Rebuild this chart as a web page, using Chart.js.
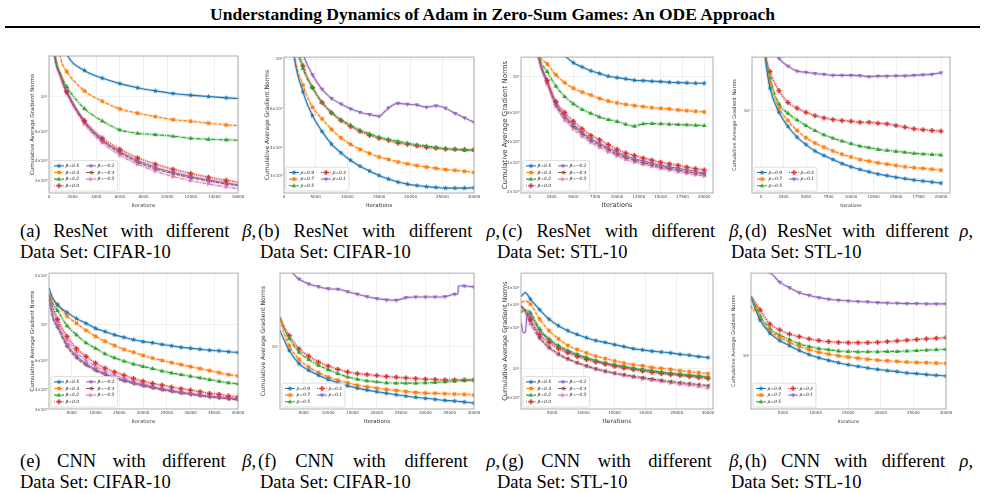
<!DOCTYPE html>
<html>
<head>
<meta charset="utf-8">
<script src="https://cdn.jsdelivr.net/npm/chart.js@4.4.0/dist/chart.umd.min.js"></script>
<style>
  body { margin: 0; width: 985px; height: 493px; background: #fff; position: relative; overflow: hidden;
         font-family: "Liberation Serif", "Times New Roman", serif; color: #000; }
  .ttl { position: absolute; left: 0; width: 985px; top: 5px; text-align: center; font-weight: bold; font-size: 17.5px; line-height: 18px; }
  .rule { position: absolute; left: 5px; width: 975px; top: 26px; height: 2px; background: #000; }
  canvas { position: absolute; }
  .cap { position: absolute; font-size: 18.5px; line-height: 21px; white-space: nowrap; }
  .l1 { white-space: normal; text-align: justify; text-align-last: justify; }
</style>
</head>
<body>
<div class="ttl">Understanding Dynamics of Adam in Zero-Sum Games: An ODE Approach</div>
<div class="rule"></div>

<div class="cap l1" style="left:20px;top:221px;width:236px">(a) ResNet with different <i>β</i>,</div>
<div class="cap" style="left:20px;top:242px">Data Set: CIFAR-10</div>
<div class="cap l1" style="left:258px;top:221px;width:242px">(b) ResNet with different <i>ρ</i>,</div>
<div class="cap" style="left:260px;top:242px">Data Set: CIFAR-10</div>
<div class="cap l1" style="left:502px;top:221px;width:241px">(c) ResNet with different <i>β</i>,</div>
<div class="cap" style="left:497px;top:242px">Data Set: STL-10</div>
<div class="cap l1" style="left:745px;top:221px;width:228px">(d) ResNet with different <i>ρ</i>,</div>
<div class="cap" style="left:731px;top:242px">Data Set: STL-10</div>

<div class="cap l1" style="left:20px;top:451px;width:236px">(e) CNN with different <i>β</i>,</div>
<div class="cap" style="left:20px;top:472px">Data Set: CIFAR-10</div>
<div class="cap l1" style="left:258px;top:451px;width:242px">(f) CNN with different <i>ρ</i>,</div>
<div class="cap" style="left:260px;top:472px">Data Set: CIFAR-10</div>
<div class="cap l1" style="left:502px;top:451px;width:241px">(g) CNN with different <i>β</i>,</div>
<div class="cap" style="left:497px;top:472px">Data Set: STL-10</div>
<div class="cap l1" style="left:745px;top:451px;width:228px">(h) CNN with different <i>ρ</i>,</div>
<div class="cap" style="left:731px;top:472px">Data Set: STL-10</div>

<script>
// legend values
var betaVals = ['0.5', '0.3', '0.2', '0.0', '−0.2', '−0.3', '−0.5'];
var rhoVals = ['0.9', '0.7', '0.5', '0.3', '0.1'];

// tick labels
var xTicksA = [0, 2000, 4000, 6000, 8000, 10000, 12000, 14000, 16000];
var xTicksB = [0, 5000, 10000, 15000, 20000, 25000, 30000];
var xTicksCD = [0, 2500, 5000, 7500, 10000, 12500, 15000, 17500, 20000];
var xTicksEF = [5000, 10000, 15000, 20000, 25000, 30000, 35000, 40000];
var xTicksGH = [5000, 10000, 15000, 20000, 25000, 30000];
var yTicksA = [3, 4, 6, 10];
var yTicksB = [3, 4, 6, 10];
var yTicksC = [2, 3, 4, 6, 10];
var yTicksD = [10];
var yTicksE = [3, 4, 6, 10, 20];
var yTicksF = [10];
var yTicksG = [6, 10, 20, 30, 40];
var yTicksH = [10];

// (a) ResNet, beta, CIFAR-10
var itersA = [0, 500, 1000, 1500, 3000, 4500, 6000, 7500, 9000, 10500, 12000, 13500, 15000, 16000];
var normsA_b05 = [60, 35, 24, 18.5, 14.6, 13.1, 12.1, 11.4, 10.9, 10.5, 10.25, 10.05, 9.86, 9.76];
var normsA_b03 = [50, 28, 17.2, 14.4, 10.9, 9.40, 8.41, 7.91, 7.53, 7.21, 7.05, 6.85, 6.68, 6.62];
var normsA_b02 = [45, 18, 13.8, 11.6, 8.45, 7.08, 6.22, 5.93, 5.81, 5.68, 5.52, 5.44, 5.39, 5.36];
var normsA_b00 = [45, 18, 13.5, 10.8, 7.11, 5.54, 4.71, 4.16, 3.80, 3.53, 3.32, 3.15, 3.01, 2.93];
var normsA_bm02 = [45, 18, 13.4, 10.8, 7.01, 5.39, 4.55, 4.00, 3.64, 3.38, 3.18, 3.03, 2.90, 2.82];
var normsA_bm03 = [45, 18, 13.3, 10.7, 6.95, 5.33, 4.49, 3.92, 3.56, 3.32, 3.13, 2.99, 2.86, 2.79];
var normsA_bm05 = [45, 18, 13.1, 10.5, 6.78, 5.18, 4.32, 3.80, 3.44, 3.18, 3.00, 2.86, 2.74, 2.67];

// (b) ResNet, rho, CIFAR-10
var itersB = [0, 1500, 3000, 4500, 6000, 7500, 9000, 10500, 12000, 13500, 15000, 16500, 18000, 19500, 21000, 22500, 24000, 25500, 27000, 28500, 30000];
var normsB_r09 = [40, 10.9, 7.13, 5.58, 4.74, 4.16, 3.80, 3.52, 3.31, 3.15, 3.01, 2.90, 2.81, 2.75, 2.71, 2.68, 2.66, 2.64, 2.64, 2.64, 2.65];
var normsB_r07 = [40, 11.2, 7.64, 6.08, 5.40, 4.84, 4.44, 4.15, 3.94, 3.78, 3.64, 3.55, 3.46, 3.39, 3.33, 3.28, 3.24, 3.20, 3.17, 3.14, 3.10];
var normsB_r05 = [40, 13.5, 9.06, 7.45, 6.39, 5.77, 5.34, 5.06, 4.80, 4.63, 4.47, 4.37, 4.28, 4.20, 4.13, 4.08, 4.02, 3.97, 3.94, 3.90, 3.89];
var normsB_r03 = [40, 13.8, 9.31, 7.45, 6.39, 5.74, 5.30, 4.99, 4.74, 4.55, 4.42, 4.32, 4.20, 4.15, 4.08, 4.02, 3.99, 3.95, 3.94, 3.93, 3.93];
var itersB_r01 = [0, 1500, 3000, 4500, 6000, 7500, 9000, 10500, 12000, 13500, 15000, 16000, 16500, 18000, 19500, 21000, 22500, 24000, 25500, 27000, 28500, 30000];
var normsB_r01 = [40, 15, 10.5, 8.49, 7.33, 6.66, 6.29, 5.98, 5.77, 5.64, 5.54, 5.85, 6.04, 6.33, 6.27, 6.23, 6.08, 6.17, 6.02, 5.71, 5.45, 5.21];

// (c) ResNet, beta, STL-10
var itersC = [0, 1000, 2000, 3000, 4000, 5000, 6000, 7000, 8000, 9000, 10000, 11000, 12000, 13000, 14000, 15000, 16000, 17000, 18000, 19000, 20000];
var normsC_b05 = [40, 26, 19, 15.5, 13.5, 12.2, 11.5, 10.9, 10.5, 10.1, 9.90, 9.73, 9.55, 9.50, 9.42, 9.37, 9.29, 9.24, 9.20, 9.16, 9.16];
var normsC_b03 = [40, 14.5, 12.0, 10.3, 9.24, 8.55, 8.09, 7.76, 7.40, 7.14, 6.95, 6.81, 6.69, 6.60, 6.50, 6.44, 6.39, 6.30, 6.24, 6.18, 6.13];
var normsC_b02 = [40, 14.0, 10.8, 8.79, 7.60, 6.87, 6.35, 6.01, 5.71, 5.51, 5.36, 5.16, 5.02, 5.19, 5.21, 5.19, 5.16, 5.14, 5.12, 5.09, 5.07];
var normsC_b00 = [40, 13.6, 9.55, 7.10, 6.09, 5.38, 4.84, 4.41, 4.16, 3.88, 3.63, 3.45, 3.33, 3.21, 3.12, 3.03, 2.96, 2.90, 2.83, 2.77, 2.72];
var normsC_bm02 = [40, 13.6, 9.37, 6.91, 5.82, 5.14, 4.62, 4.21, 3.96, 3.70, 3.49, 3.31, 3.19, 3.08, 2.99, 2.91, 2.84, 2.78, 2.72, 2.66, 2.61];
var normsC_bm03 = [40, 13.6, 9.24, 6.78, 5.69, 5.00, 4.52, 4.12, 3.86, 3.62, 3.40, 3.24, 3.12, 3.01, 2.93, 2.84, 2.78, 2.72, 2.65, 2.61, 2.56];
var normsC_bm05 = [40, 13.5, 9.04, 6.60, 5.48, 4.84, 4.35, 4.00, 3.73, 3.50, 3.31, 3.15, 3.03, 2.94, 2.86, 2.78, 2.72, 2.65, 2.59, 2.54, 2.50];

// (d) ResNet, rho, STL-10
var itersD = [0, 500, 1000, 2000, 3000, 4000, 5000, 6000, 7000, 8000, 9000, 10000, 11000, 12000, 13000, 14000, 15000, 16000, 17000, 18000, 19000, 20000];
var normsD_r09 = [80, 27, 15.5, 9.68, 7.36, 5.99, 5.18, 4.58, 4.19, 3.88, 3.59, 3.37, 3.20, 3.06, 2.93, 2.84, 2.75, 2.68, 2.61, 2.56, 2.51, 2.46];
var normsD_r07 = [80, 28, 17.2, 10.5, 8.25, 6.81, 5.92, 5.34, 4.94, 4.58, 4.30, 4.08, 3.88, 3.76, 3.64, 3.55, 3.46, 3.37, 3.31, 3.27, 3.22, 3.16];
var normsD_r05 = [80, 29, 18.9, 11.4, 9.49, 8.37, 7.50, 6.81, 6.27, 5.88, 5.55, 5.28, 5.04, 4.89, 4.73, 4.64, 4.55, 4.47, 4.38, 4.33, 4.28, 4.24];
var normsD_r03 = [80, 30, 21.3, 14.7, 11.7, 10.5, 9.68, 9.08, 8.69, 8.41, 8.25, 8.15, 7.99, 7.99, 7.83, 7.74, 7.50, 7.26, 7.04, 6.91, 6.81, 6.72];
var normsD_r01 = [80, 50, 40, 27.5, 23.7, 21.5, 21.0, 20.5, 20.2, 19.8, 19.8, 19.8, 19.7, 19.3, 19.5, 19.5, 19.6, 19.6, 19.8, 20.0, 20.2, 20.8];

// (e) CNN, beta, CIFAR-10
var itersE = [200, 1000, 2000, 4000, 6000, 8000, 10000, 12000, 14000, 16000, 18000, 20000, 22000, 24000, 26000, 28000, 30000, 32000, 34000, 36000, 38000, 40000];
var normsE_b05 = [16.8, 14.5, 13.2, 11.9, 10.9, 10.2, 9.50, 9.08, 8.67, 8.38, 8.11, 7.88, 7.75, 7.57, 7.43, 7.28, 7.18, 7.08, 6.99, 6.93, 6.83, 6.77];
var normsE_b03 = [15.7, 14.3, 13.3, 11.3, 10.2, 9.24, 8.49, 7.92, 7.46, 7.05, 6.79, 6.49, 6.25, 6.05, 5.86, 5.70, 5.54, 5.39, 5.24, 5.09, 4.95, 4.86];
var normsE_b02 = [15.3, 13.5, 12.2, 9.86, 8.67, 7.75, 7.18, 6.64, 6.28, 5.99, 5.75, 5.56, 5.39, 5.21, 5.07, 4.95, 4.84, 4.73, 4.62, 4.51, 4.41, 4.35];
var normsE_b00 = [15.0, 12.8, 10.8, 8.49, 7.13, 6.40, 5.83, 5.43, 5.14, 4.91, 4.69, 4.51, 4.37, 4.27, 4.15, 4.06, 3.98, 3.89, 3.80, 3.75, 3.66, 3.61];
var normsE_bm02 = [15.0, 11.3, 9.86, 7.54, 6.43, 5.78, 5.34, 5.02, 4.77, 4.58, 4.41, 4.27, 4.15, 4.04, 3.94, 3.85, 3.78, 3.71, 3.65, 3.60, 3.55, 3.50];
var normsE_bm03 = [14.5, 11.0, 9.63, 7.37, 6.28, 5.67, 5.25, 4.95, 4.71, 4.53, 4.37, 4.23, 4.11, 4.00, 3.91, 3.82, 3.75, 3.68, 3.62, 3.57, 3.52, 3.47];
var normsE_bm05 = [15.0, 12.3, 10.4, 8.00, 6.79, 6.05, 5.56, 5.21, 4.91, 4.70, 4.51, 4.35, 4.20, 4.08, 3.97, 3.88, 3.80, 3.72, 3.66, 3.60, 3.55, 3.50];

// (f) CNN, rho, CIFAR-10
var itersF = [100, 1000, 2000, 4000, 6000, 8000, 10000, 12000, 14000, 16000, 18000, 20000, 22000, 24000, 26000, 28000, 30000, 32000, 34000, 36000, 38000, 40000];
var normsF_r09 = [14.5, 11.5, 9.12, 6.71, 5.75, 5.13, 4.65, 4.30, 4.01, 3.80, 3.63, 3.49, 3.37, 3.26, 3.16, 3.07, 3.00, 2.93, 2.86, 2.82, 2.75, 2.69];
var normsF_r07 = [18.9, 13.5, 10.2, 7.41, 6.21, 5.46, 4.93, 4.57, 4.30, 4.07, 3.92, 3.80, 3.69, 3.61, 3.52, 3.44, 3.39, 3.37, 3.34, 3.31, 3.29, 3.24];
var normsF_r05 = [19.6, 15.0, 12.1, 8.77, 7.41, 6.46, 5.85, 5.33, 4.93, 4.68, 4.50, 4.40, 4.30, 4.27, 4.27, 4.27, 4.30, 4.34, 4.40, 4.47, 4.54, 4.60];
var normsF_r03 = [19.6, 15.5, 12.9, 9.48, 8.00, 6.97, 6.35, 5.89, 5.53, 5.33, 5.21, 5.09, 4.98, 4.90, 4.82, 4.75, 4.68, 4.65, 4.60, 4.60, 4.60, 4.60];
var itersF_r01 = [0, 2000, 4000, 6000, 8000, 10000, 12000, 14000, 16000, 18000, 20000, 22000, 24000, 26000, 28000, 30000, 32000, 34000, 36000, 36700, 36800, 38000, 40000];
var normsF_r01 = [80, 60, 47.9, 42.7, 40.1, 38.3, 37.8, 35.7, 33.7, 31.8, 30.4, 29.5, 29.3, 31.1, 31.6, 31.6, 31.6, 31.8, 33.7, 33.9, 40.7, 40.7, 39.8];

// (g) CNN, beta, STL-10
var itersG = [0, 700, 1500, 3000, 4500, 6000, 7500, 9000, 10500, 12000, 13500, 15000, 16500, 18000, 19500, 21000, 22500, 24000, 25500, 27000, 28500, 30000];
var normsG_b05 = [34.5, 36.9, 33.0, 27.5, 23.4, 20.9, 19.2, 18.0, 17.0, 16.2, 15.7, 15.1, 14.6, 14.1, 13.8, 13.5, 13.3, 13.1, 12.8, 12.6, 12.3, 12.1];
var normsG_b03 = [31.1, 32, 30.3, 23.4, 19.2, 16.7, 14.9, 13.9, 13.1, 12.4, 11.9, 11.4, 11.0, 10.7, 10.5, 10.2, 10.05, 9.88, 9.66, 9.50, 9.34, 9.18];
var normsG_b02 = [26.2, 27.5, 26.2, 19.8, 16.7, 14.9, 13.7, 12.8, 12.1, 11.5, 11.1, 10.7, 10.4, 10.1, 9.88, 9.66, 9.44, 9.27, 9.12, 8.97, 8.82, 8.67];
var normsG_b00 = [29.4, 27, 23.4, 17.9, 15.7, 14.1, 13.1, 12.3, 11.7, 11.2, 10.8, 10.4, 10.1, 9.84, 9.60, 9.39, 9.18, 9.03, 8.88, 8.73, 8.58, 8.43];
var itersG_bm02 = [0, 400, 700, 1000, 1500, 3000, 4500, 6000, 7500, 9000, 10500, 12000, 13500, 15000, 16500, 18000, 19500, 21000, 22500, 24000, 25500, 27000, 28500, 30000];
var normsG_bm02 = [22.1, 18.5, 18.7, 26.2, 25.1, 19.2, 16.4, 14.6, 13.4, 12.7, 12.0, 11.4, 10.9, 10.6, 10.3, 10.0, 9.77, 9.55, 9.34, 9.18, 9.03, 8.88, 8.77, 8.62];
var normsG_bm03 = [29.4, 27, 22.8, 17.1, 14.5, 12.9, 11.9, 11.1, 10.5, 10.0, 9.60, 9.27, 9.03, 8.77, 8.58, 8.37, 8.19, 8.01, 7.87, 7.74, 7.61, 7.48];
var normsG_bm05 = [29.4, 26, 21.5, 16.7, 14.2, 12.7, 11.7, 11.0, 10.4, 9.88, 9.50, 9.18, 8.88, 8.62, 8.37, 8.19, 8.01, 7.82, 7.65, 7.52, 7.36, 7.18];

// (h) CNN, rho, STL-10
var itersH = [100, 1500, 3000, 4500, 6000, 7500, 9000, 10500, 12000, 13500, 15000, 16500, 18000, 19500, 21000, 22500, 24000, 25500, 27000, 28500, 30000];
var normsH_r09 = [33.9, 21.1, 16.0, 13.7, 12.3, 11.1, 10.2, 9.52, 9.01, 8.59, 8.23, 7.94, 7.67, 7.46, 7.26, 7.11, 6.91, 6.82, 6.68, 6.58, 6.49];
var itersH_r07 = [100, 500, 1000, 1500, 3000, 4500, 6000, 7500, 9000, 10500, 12000, 13500, 15000, 16500, 18000, 19500, 21000, 22500, 24000, 25500, 27000, 28500, 30000];
var normsH_r07 = [28.5, 25.7, 28.5, 21.8, 16.9, 14.7, 13.2, 12.1, 11.3, 10.7, 10.3, 9.94, 9.66, 9.45, 9.25, 9.06, 8.95, 8.82, 8.69, 8.63, 8.59, 8.51, 8.46];
var normsH_r05 = [35.1, 23.1, 17.7, 15.4, 14.0, 12.8, 12.1, 11.6, 11.3, 11.0, 10.9, 10.8, 10.8, 10.8, 10.9, 10.9, 11.0, 11.1, 11.2, 11.3, 11.4];
var normsH_r03 = [35.1, 26.2, 19.4, 17.2, 15.7, 14.9, 14.2, 13.7, 13.4, 13.2, 13.1, 13.1, 13.1, 13.2, 13.4, 13.6, 13.8, 14.0, 14.2, 14.4, 14.6];
var itersH_r01 = [0, 1500, 3000, 4500, 6000, 7500, 9000, 10500, 12000, 13500, 15000, 16500, 18000, 19500, 21000, 22500, 24000, 25500, 27000, 28500, 30000];
var normsH_r01 = [80, 65, 58, 47, 41.8, 37.6, 35.6, 33.9, 32.8, 32.1, 31.6, 31.2, 31.0, 30.5, 30.3, 30.1, 29.9, 29.9, 29.7, 29.7, 29.7];

// styles: matplotlib tab10 colours, line styles and markers
var palette = ['#1f77b4', '#ff7f0e', '#2ca02c', '#d62728', '#9467bd', '#8c564b', '#e377c2'];
var dashes = [[], [3.5, 1.5], [4, 1.2, 1, 1.2], [1, 1.3], [], [3.5, 1.5], [4, 1.2, 1, 1.2]];
var shapes = ['star', 'square', 'triUp', 'plus', 'triDown', 'triLeft', 'triRight'];

function makeMarker(shape, color) {
  var c = document.createElement('canvas');
  c.width = 7; c.height = 7;
  var g = c.getContext('2d');
  g.fillStyle = color;
  g.translate(3.5, 3.5);
  g.beginPath();
  if (shape == 'square') {
    g.rect(-1.8, -1.8, 3.6, 3.6);
  } else if (shape == 'plus') {
    var a = 0.8, b = 2.6;
    g.moveTo(-a, -b); g.lineTo(a, -b); g.lineTo(a, -a); g.lineTo(b, -a); g.lineTo(b, a); g.lineTo(a, a);
    g.lineTo(a, b); g.lineTo(-a, b); g.lineTo(-a, a); g.lineTo(-b, a); g.lineTo(-b, -a); g.lineTo(-a, -a);
    g.closePath();
  } else if (shape == 'star') {
    for (var i = 0; i < 10; i++) {
      var r = i % 2 ? 1.2 : 2.8, t = -Math.PI / 2 + i * Math.PI / 5;
      g.lineTo(r * Math.cos(t), r * Math.sin(t));
    }
    g.closePath();
  } else {
    var rot = {triUp: 0, triDown: 180, triLeft: -90, triRight: 90}[shape];
    g.rotate(rot * Math.PI / 180);
    g.moveTo(0, -2.5); g.lineTo(2.3, 1.6); g.lineTo(-2.3, 1.6); g.closePath();
  }
  g.fill();
  return c;
}
var markers = shapes.map(function (s, i) { return makeMarker(s, palette[i]); });

function alpha(hex, a) {
  var n = parseInt(hex.slice(1), 16);
  return 'rgba(' + (n >> 16) + ',' + ((n >> 8) & 255) + ',' + (n & 255) + ',' + a + ')';
}

var sup = '⁰¹²³⁴⁵⁶⁷⁸⁹';
function sciLabel(v) {
  var e = Math.floor(Math.log10(v) + 1e-9);
  var m = Math.round(v / Math.pow(10, e));
  var s = String(e).split('').map(function (ch) { return ch == '-' ? '⁻' : sup[+ch]; }).join('');
  return m == 1 ? '10' + s : m + '×10' + s;
}
function isPow10(v) { var l = Math.log10(v); return Math.abs(l - Math.round(l)) < 1e-6; }

// frame + legend box in lower left, two columns like matplotlib ncol=2
var frameLegend = {
  id: 'frameLegend',
  afterDatasetsDraw: function (chart) {
    var ctx = chart.ctx, a = chart.chartArea;
    ctx.save();
    ctx.strokeStyle = '#9a9a9a';
    ctx.lineWidth = 0.8;
    ctx.strokeRect(a.left, a.top, a.right - a.left, a.bottom - a.top);

    var items = chart.data.datasets.filter(function (d) { return !d.band; });
    var rows = Math.ceil(items.length / 2);
    ctx.font = 'italic 4.4px "DejaVu Sans"';
    var tw = function (arr) { return Math.max.apply(null, arr.map(function (d) { return ctx.measureText(d.label).width; })); };
    var col1 = items.slice(0, rows), col2 = items.slice(rows);
    var rowH = 6.6, handle = 10, pad = 2;
    var c1x = 3, c1t = 14.5, c2x = c1t + tw(col1) + 7, c2t = c2x + 11.5;
    var bw = c2t + tw(col2) + 3, bh = rows * rowH + pad * 2;
    var bx = a.left + 2, by = a.bottom - 2 - bh;
    ctx.beginPath();
    ctx.roundRect(bx, by, bw, bh, 1.5);
    ctx.fillStyle = 'rgba(255,255,255,0.85)';
    ctx.fill();
    ctx.strokeStyle = '#cfcfcf';
    ctx.lineWidth = 0.7;
    ctx.stroke();
    items.forEach(function (d, i) {
      var col = i < rows ? 0 : 1, row = col ? i - rows : i;
      var hx = bx + (col ? c2x : c1x), tx = bx + (col ? c2t : c1t);
      var y = by + pad + rowH * row + rowH / 2;
      ctx.strokeStyle = d.borderColor;
      ctx.lineWidth = d.borderWidth;
      ctx.setLineDash(d.borderDash);
      ctx.beginPath(); ctx.moveTo(hx, y); ctx.lineTo(hx + handle, y); ctx.stroke();
      ctx.setLineDash([]);
      var m = d.pointStyle;
      ctx.drawImage(m, hx + handle / 2 - m.width / 2, y - m.height / 2);
      ctx.fillStyle = '#222';
      ctx.textBaseline = 'middle';
      ctx.fillText(d.label, tx, y);
    });
    ctx.restore();
  }
};

var panels = [
  {box: [49, 56, 238, 193], xr: [0, 16000], xt: xTicksA, yr: [2.51, 18.0], yt: yTicksA, every: 1500, sym: 'β', vals: betaVals, ts: 5.5,
   lines: [[itersA, normsA_b05], [itersA, normsA_b03], [itersA, normsA_b02], [itersA, normsA_b00], [itersA, normsA_bm02], [itersA, normsA_bm03], [itersA, normsA_bm05]]},
  {box: [284, 56, 474, 193], xr: [0, 30000], xt: xTicksB, yr: [2.51, 10.2], yt: yTicksB, every: 1500, sym: 'ρ', vals: rhoVals, ts: 6,
   lines: [[itersB, normsB_r09], [itersB, normsB_r07], [itersB, normsB_r05], [itersB, normsB_r03], [itersB_r01, normsB_r01]]},
  {box: [521, 56, 713, 193], xr: [-1000, 21000], xt: xTicksCD, yr: [1.97, 13.2], yt: yTicksC, every: 1000, sym: 'β', vals: betaVals, ts: 7,
   lines: [[itersC, normsC_b05], [itersC, normsC_b03], [itersC, normsC_b02], [itersC, normsC_b00], [itersC, normsC_bm02], [itersC, normsC_bm03], [itersC, normsC_bm05]]},
  {box: [752, 56, 950, 193], xr: [-1000, 21000], xt: xTicksCD, yr: [2.03, 28.2], yt: yTicksD, every: 1000, sym: 'ρ', vals: rhoVals, ts: 5,
   lines: [[itersD, normsD_r09], [itersD, normsD_r07], [itersD, normsD_r05], [itersD, normsD_r03], [itersD, normsD_r01]]},
  {box: [49, 272, 238, 409], xr: [200, 40000], xt: xTicksEF, yr: [3.05, 20.7], yt: yTicksE, every: 2000, sym: 'β', vals: betaVals, ts: 5.5,
   lines: [[itersE, normsE_b05], [itersE, normsE_b03], [itersE, normsE_b02], [itersE, normsE_b00], [itersE, normsE_bm02], [itersE, normsE_bm03], [itersE, normsE_bm05]]},
  {box: [280, 272, 474, 409], xr: [100, 40000], xt: xTicksEF, yr: [2.34, 55], yt: yTicksF, every: 2000, sym: 'ρ', vals: rhoVals, ts: 6,
   lines: [[itersF, normsF_r09], [itersF, normsF_r07], [itersF, normsF_r05], [itersF, normsF_r03], [itersF_r01, normsF_r01]]},
  {box: [521, 272, 713, 409], xr: [0, 30800], xt: xTicksGH, yr: [5.0, 51.6], yt: yTicksG, every: 1500, sym: 'β', vals: betaVals, ts: 6.5,
   lines: [[itersG, normsG_b05], [itersG, normsG_b03], [itersG, normsG_b02], [itersG, normsG_b00], [itersG_bm02, normsG_bm02], [itersG, normsG_bm03], [itersG, normsG_bm05]]},
  {box: [751, 272, 946, 409], xr: [100, 30000], xt: xTicksGH, yr: [3.23, 56.9], yt: yTicksH, every: 1500, sym: 'ρ', vals: rhoVals, ts: 5,
   lines: [[itersH, normsH_r09], [itersH_r07, normsH_r07], [itersH, normsH_r05], [itersH, normsH_r03], [itersH_r01, normsH_r01]]}
];

var YW = 20, XH = 16, PT = 4, PR = 8;

panels.forEach(function (p) {
  var l = p.box[0], t = p.box[1], r = p.box[2], b = p.box[3];
  var cv = document.createElement('canvas');
  cv.width = r - l + YW + PR;
  cv.height = b - t + PT + XH;
  cv.style.left = (l - YW) + 'px';
  cv.style.top = (t - PT) + 'px';
  document.body.appendChild(cv);

  var datasets = [];
  p.lines.forEach(function (ln, i) {
    var pts = ln[0].map(function (x, j) { return {x: x, y: ln[1][j]}; });
    // light band (spread across runs)
    datasets.push({band: true, data: pts, borderColor: alpha(palette[i], 0.2), borderWidth: 3,
      pointRadius: 0, cubicInterpolationMode: 'monotone', clip: 0, order: 2});
    datasets.push({label: p.sym + '=' + p.vals[i], data: pts, borderColor: palette[i], borderWidth: 1.1,
      borderDash: dashes[i], pointStyle: markers[i], clip: 0, order: 1,
      pointRadius: function (c) { var x = c.raw && c.raw.x; return x > 0 && x % p.every === 0 ? 2.5 : 0; },
      cubicInterpolationMode: 'monotone'});
  });

  new Chart(cv, {
    type: 'line',
    data: {datasets: datasets},
    options: {
      responsive: false,
      animation: false,
      devicePixelRatio: 1,
      layout: {padding: {top: PT, right: PR, left: 0, bottom: 0}},
      plugins: {legend: {display: false}, tooltip: {enabled: false}},
      scales: {
        x: {
          type: 'linear', min: p.xr[0], max: p.xr[1],
          afterBuildTicks: function (s) { s.ticks = p.xt.map(function (v) { return {value: v}; }); },
          afterFit: function (s) { s.height = XH; },
          ticks: {font: {size: 4, family: 'DejaVu Sans'}, color: '#444', padding: 1.5, maxRotation: 0, autoSkip: false,
                  callback: function (v) { return String(v); }},
          grid: {color: '#ececec', lineWidth: 0.8, drawTicks: false},
          border: {display: false},
          title: {display: true, text: 'Iterations', font: {size: p.ts - 0.5, family: 'DejaVu Sans'}, color: '#333', padding: {top: 0, bottom: 0}}
        },
        y: {
          type: 'logarithmic', min: p.yr[0], max: p.yr[1],
          afterBuildTicks: function (s) { s.ticks = p.yt.map(function (v) { return {value: v}; }); },
          afterFit: function (s) { s.width = YW; },
          ticks: {font: {size: 4, family: 'DejaVu Sans'}, color: '#444', padding: 1.5, autoSkip: false,
                  callback: function (v) { return sciLabel(v); }},
          grid: {lineWidth: 0.8, drawTicks: false,
                 color: function (c) { return c.tick && isPow10(c.tick.value) ? '#ececec' : 'rgba(0,0,0,0)'; }},
          border: {display: false},
          title: {display: true, text: 'Cumulative Average Gradient Norms', font: {size: p.ts, family: 'DejaVu Sans'}, color: '#333', padding: {top: 0, bottom: 0}}
        }
      }
    },
    plugins: [frameLegend]
  });
});
</script>
</body>
</html>
